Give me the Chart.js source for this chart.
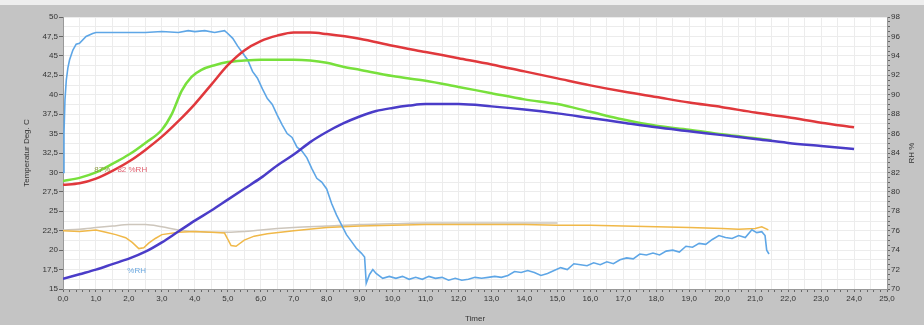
<!DOCTYPE html>
<html>
<head>
<meta charset="utf-8">
<script src="https://cdn.jsdelivr.net/npm/chart.js@4/dist/chart.umd.min.js"></script>
<style>
  html, body { margin: 0; padding: 0; background: #ffffff; }
  canvas { display: block; }
</style>
</head>
<body>
<canvas id="chart" width="924" height="325"></canvas>
<script>
// temperatures (deg C, left axis) - time in hours
const redT = [0, 0.5, 1, 1.5, 2, 2.5, 3, 3.5, 4, 4.5, 5, 5.5, 6, 6.5, 7, 7.5, 8, 9, 10, 11, 12, 13, 14, 15, 16, 17, 18, 19, 20, 21, 22, 23, 24];
const redV = [28.4, 28.6, 29.2, 30.2, 31.4, 32.9, 34.6, 36.6, 38.8, 41.3, 43.8, 45.7, 46.9, 47.6, 48.0, 48.0, 47.8, 47.2, 46.3, 45.5, 44.7, 43.9, 43.0, 42.1, 41.2, 40.4, 39.7, 39.0, 38.4, 37.7, 37.1, 36.4, 35.8];

const greenT = [0, 0.5, 1, 1.5, 2, 2.5, 3, 3.3, 3.6, 3.9, 4.2, 4.6, 5, 5.5, 6, 6.5, 7, 7.5, 8, 8.5, 9, 10, 11, 12, 13, 14, 15, 16, 17, 18, 19, 20, 21, 21.5];
const greenV = [28.9, 29.3, 30.0, 31.1, 32.3, 33.8, 35.5, 37.5, 40.5, 42.3, 43.2, 43.8, 44.2, 44.4, 44.5, 44.5, 44.5, 44.4, 44.1, 43.6, 43.2, 42.4, 41.8, 41.0, 40.2, 39.4, 38.8, 37.8, 36.8, 36.0, 35.5, 34.9, 34.4, 34.15];

const blueT = [0, 0.5, 1, 1.5, 2, 2.5, 3, 3.5, 4, 4.5, 5, 5.5, 6, 6.5, 7, 7.5, 8, 8.5, 9, 9.5, 10, 10.5, 11, 12, 13, 14, 15, 16, 17, 18, 19, 20, 21, 22, 23, 24];
const blueV = [16.3, 16.9, 17.5, 18.2, 18.9, 19.8, 21.0, 22.4, 23.8, 25.1, 26.5, 27.9, 29.3, 30.9, 32.3, 33.9, 35.2, 36.3, 37.2, 37.9, 38.3, 38.6, 38.8, 38.8, 38.5, 38.1, 37.6, 37.0, 36.4, 35.8, 35.3, 34.8, 34.3, 33.8, 33.4, 33.0];

const orangeT = [0, 0.5, 1, 1.3, 1.6, 1.9, 2.1, 2.3, 2.45, 2.6, 2.8, 3.0, 3.5, 4, 4.5, 4.9, 5.1, 5.25, 5.5, 5.8, 6.2, 7, 8, 9, 10, 11, 12, 13, 14, 15, 16, 17, 18, 19, 20, 20.5, 21, 21.2, 21.4];
const orangeV = [22.5, 22.4, 22.6, 22.3, 22.0, 21.6, 21.0, 20.2, 20.3, 20.9, 21.5, 22.0, 22.3, 22.4, 22.3, 22.2, 20.6, 20.5, 21.3, 21.8, 22.1, 22.5, 22.9, 23.1, 23.2, 23.3, 23.3, 23.3, 23.3, 23.2, 23.2, 23.1, 23.0, 22.9, 22.8, 22.7, 22.8, 23.0, 22.6];

const greyT = [0, 0.5, 1, 1.5, 2, 2.5, 3, 3.5, 4, 4.5, 5, 5.5, 6, 7, 8, 9, 10, 11, 12, 13, 14, 15];
const greyV = [22.6, 22.7, 22.9, 23.1, 23.3, 23.3, 23.0, 22.6, 22.4, 22.3, 22.3, 22.4, 22.6, 22.9, 23.1, 23.3, 23.4, 23.5, 23.5, 23.5, 23.5, 23.5];

// relative humidity (%, right axis)
const rhT = [0, 0.03, 0.06, 0.1, 0.15, 0.2, 0.3, 0.4, 0.5, 0.7, 0.9, 1.0, 1.5, 2, 2.5, 3, 3.5, 3.8, 4, 4.3, 4.6, 4.9, 5.0, 5.15, 5.3, 5.45, 5.6, 5.75, 5.9, 6.05, 6.2, 6.35, 6.5, 6.65, 6.8, 6.95, 7.1, 7.25, 7.4, 7.55, 7.7, 7.85, 8.0, 8.15, 8.3, 8.45, 8.6, 8.75, 8.9, 9.05, 9.15, 9.2, 9.3, 9.4, 9.5, 9.7, 9.9, 10.1, 10.3, 10.5, 10.7, 10.9, 11.1, 11.3, 11.5, 11.7, 11.9, 12.1, 12.3, 12.5, 12.7, 12.9, 13.1, 13.3, 13.5, 13.7, 13.9, 14.1, 14.3, 14.5, 14.7, 14.9, 15.1, 15.3, 15.5, 15.7, 15.9, 16.1, 16.3, 16.5, 16.7, 16.9, 17.1, 17.3, 17.5, 17.7, 17.9, 18.1, 18.3, 18.5, 18.7, 18.9, 19.1, 19.3, 19.5, 19.7, 19.9, 20.1, 20.3, 20.5, 20.7, 20.9, 21.05, 21.2, 21.3, 21.35, 21.42];
const rhV = [82.0, 86.0, 89.5, 91.5, 92.8, 93.6, 94.6, 95.2, 95.3, 96.0, 96.3, 96.4, 96.4, 96.4, 96.4, 96.5, 96.4, 96.6, 96.5, 96.6, 96.4, 96.6, 96.3, 95.8, 95.0, 94.3, 93.6, 92.4, 91.7, 90.6, 89.6, 89.0, 87.9, 86.9, 86.0, 85.6, 84.6, 84.2, 83.5, 82.4, 81.4, 81.0, 80.3, 78.8, 77.6, 76.6, 75.6, 74.9, 74.2, 73.7, 73.3, 70.6, 71.5, 72.0, 71.6, 71.1, 71.3, 71.1, 71.3, 71.0, 71.2, 71.0, 71.3, 71.1, 71.2, 70.9, 71.1, 70.9, 71.0, 71.2, 71.1, 71.2, 71.3, 71.2, 71.4, 71.8, 71.7, 71.9, 71.7, 71.4, 71.6, 71.9, 72.2, 72.0, 72.6, 72.5, 72.4, 72.7, 72.5, 72.8, 72.6, 73.0, 73.2, 73.1, 73.6, 73.5, 73.7, 73.5, 73.9, 74.0, 73.8, 74.4, 74.3, 74.7, 74.6, 75.1, 75.5, 75.3, 75.2, 75.5, 75.3, 76.1, 75.8, 75.9, 75.5, 74.0, 73.6];

// in-plot notes: [text, x (h), y (deg C), colour]
const notes = [
  ["87%", 0.95, 30.3, "#8a9a40"],
  ["82 %RH", 1.65, 30.3, "#e06070"],
  ["%RH", 1.95, 17.4, "#6aa8e0"]
];

const pts = (xs, ys) => xs.map((x, i) => ({ x, y: ys[i] }));
const isStep = (v, s) => Math.abs(v / s - Math.round(v / s)) < 1e-6;
const comma = (v) => (Number.isInteger(v) ? String(v) : v.toFixed(1).replace(".", ","));
const tickFont = { family: "'Liberation Sans', Arial, sans-serif", size: 8 };

const frame = {
  id: "frame",
  beforeDraw(chart) {
    const { ctx, chartArea: a } = chart;
    ctx.save();
    ctx.fillStyle = "#c4c4c4";
    ctx.fillRect(0, 0, chart.width, chart.height);
    ctx.fillStyle = "#eeeeee";
    ctx.fillRect(0, 0, chart.width, 5);
    ctx.fillStyle = "#ffffff";
    ctx.fillRect(a.left, a.top, a.right - a.left, a.bottom - a.top);
    ctx.restore();
  },
  afterDraw(chart) {
    const { ctx, scales } = chart;
    ctx.save();
    ctx.font = "8px 'Liberation Sans', Arial, sans-serif";
    ctx.textBaseline = "middle";
    notes.forEach(([text, x, y, color]) => {
      ctx.fillStyle = color;
      ctx.fillText(text, scales.x.getPixelForValue(x), scales.y.getPixelForValue(y));
    });
    // right axis title, reading upwards like the left one
    const r = scales.y2;
    ctx.translate(r.right - 12, (r.top + r.bottom) / 2);
    ctx.rotate(-Math.PI / 2);
    ctx.textAlign = "center";
    ctx.fillStyle = "#333";
    ctx.fillText("RH %", 0, 0);
    ctx.restore();
  }
};

const line = (label, data, color, width, axis, smooth) => ({
  label,
  data,
  borderColor: color,
  borderWidth: width,
  pointRadius: 0,
  fill: false,
  yAxisID: axis,
  cubicInterpolationMode: smooth ? "monotone" : "default",
  tension: 0
});

new Chart(document.getElementById("chart"), {
  type: "line",
  data: {
    datasets: [
      line("T1", pts(redT, redV), "#e0383c", 2.5, "y", true),
      line("T2", pts(blueT, blueV), "#4a3cc8", 2.5, "y", true),
      line("T3", pts(greenT, greenV), "#78e03c", 2.5, "y", true),
      line("RH", pts(rhT, rhV), "#5ea6e6", 1.6, "y2", false),
      line("T amb", pts(orangeT, orangeV), "#f0b848", 1.5, "y", false),
      line("T ref", pts(greyT, greyV), "#cdc6bc", 1.5, "y", true)
    ]
  },
  options: {
    responsive: false,
    animation: false,
    events: [],
    layout: { padding: { top: 17, left: 0, right: 0, bottom: 0 } },
    plugins: { legend: { display: false }, tooltip: { enabled: false } },
    scales: {
      x: {
        type: "linear",
        position: "bottom",
        min: 0,
        max: 25,
        afterFit: (s) => { s.height = 36; },
        ticks: {
          stepSize: 0.2,
          autoSkip: false,
          maxRotation: 0,
          padding: 2,
          color: "#333",
          font: tickFont,
          callback: (v) => (isStep(v, 1) ? Math.round(v).toFixed(1).replace(".", ",") : "")
        },
        grid: {
          color: (c) => (isStep(c.tick.value, 1) ? "#d2d2d2" : "rgba(0,0,0,0)"),
          tickColor: "#666",
          tickLength: 3
        },
        border: { color: "#999" },
        title: {
          display: true,
          text: "Timer",
          color: "#333",
          font: tickFont,
          padding: { top: 0, bottom: 1 }
        }
      },
      xm: {
        type: "linear",
        position: "bottom",
        min: 0,
        max: 25,
        afterFit: (s) => { s.height = 0; },
        ticks: { display: false, stepSize: 0.5 },
        grid: { color: "#ececec", drawTicks: false },
        border: { display: false }
      },
      y: {
        type: "linear",
        position: "left",
        min: 15,
        max: 50,
        afterFit: (s) => { s.width = 63; },
        ticks: {
          stepSize: 2.5,
          padding: 1,
          color: "#333",
          font: tickFont,
          callback: (v) => comma(v)
        },
        grid: { color: "#d2d2d2", tickColor: "#666", tickLength: 4 },
        border: { color: "#999" },
        title: {
          display: true,
          text: "Temperatur Deg. C",
          color: "#333",
          font: tickFont,
          padding: { top: 22, bottom: 0 }
        }
      },
      ym: {
        type: "linear",
        position: "left",
        min: 15,
        max: 50,
        afterFit: (s) => { s.width = 0; },
        ticks: { display: false, stepSize: 1.25 },
        grid: { color: "#ececec", drawTicks: false },
        border: { display: false }
      },
      y2: {
        type: "linear",
        position: "right",
        min: 70,
        max: 98,
        afterFit: (s) => { s.width = 37; },
        ticks: {
          stepSize: 0.5,
          autoSkip: false,
          padding: 1,
          color: "#333",
          font: tickFont,
          callback: (v) => (isStep(v, 2) ? String(Math.round(v)) : "")
        },
        grid: { drawOnChartArea: false, tickColor: "#666", tickLength: 3 },
        border: { color: "#999" }
      }
    }
  },
  plugins: [frame]
});
</script>
</body>
</html>
